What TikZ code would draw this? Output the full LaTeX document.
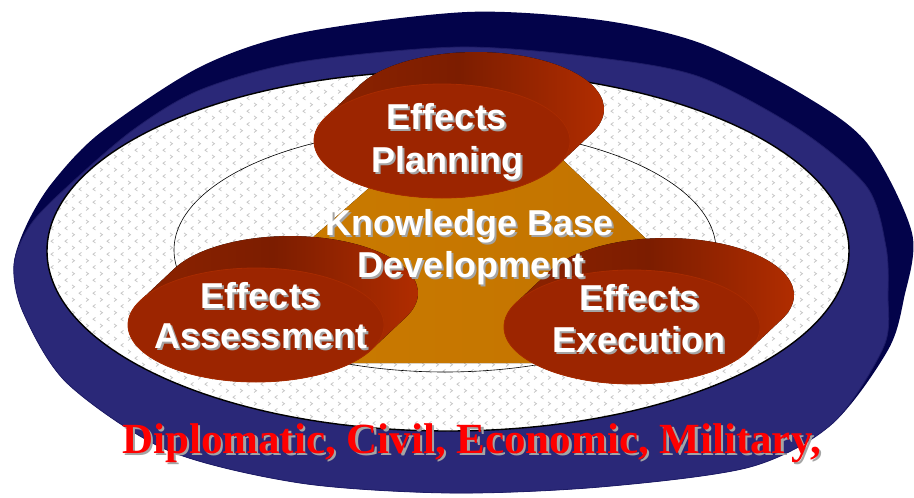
\documentclass[tikz,border=0pt]{standalone}
\usepackage{fontspec}
\setmainfont{Liberation Sans}
\newfontfamily\serifbold{Liberation Serif}
\usetikzlibrary{patterns}

\definecolor{navyD}{HTML}{03034A}
\definecolor{navyF}{HTML}{2A2878}
\definecolor{navyE}{HTML}{1E1C66}
\definecolor{redF}{HTML}{9C2500}
\definecolor{redE}{HTML}{A82B00}
\definecolor{redD}{HTML}{7C1D00}
\definecolor{redL}{HTML}{B22D00}
\definecolor{redM}{HTML}{8E2300}
\definecolor{orng}{HTML}{CC7C00}
\definecolor{orngD}{HTML}{C27300}
\definecolor{patgray}{HTML}{C6C6C6}
\definecolor{shad}{HTML}{A4A4A4}
\definecolor{txtred}{HTML}{FF0000}

\pgfdeclarepatternformonly{chevrons}{\pgfpoint{-1pt}{-1pt}}{\pgfpoint{15pt}{14pt}}{\pgfpoint{14pt}{13pt}}{%
  \pgfsetlinewidth{0.75pt}%
  \pgfpathmoveto{\pgfpoint{2pt}{1.5pt}}\pgfpathlineto{\pgfpoint{4.5pt}{3.3pt}}\pgfpathlineto{\pgfpoint{2pt}{5.1pt}}%
  \pgfusepath{stroke}%
  \pgfpathmoveto{\pgfpoint{11.5pt}{8pt}}\pgfpathlineto{\pgfpoint{9pt}{9.8pt}}\pgfpathlineto{\pgfpoint{11.5pt}{11.6pt}}%
  \pgfusepath{stroke}%
}

\tikzset{
  lbl/.style={anchor=base, inner sep=0pt, text=white, font=\fontsize{36}{42}\selectfont\bfseries},
  lblsh/.style={lbl, text=shad},
  redlbl/.style={anchor=base west, inner sep=0pt, text=txtred, font=\serifbold\bfseries\fontsize{43}{48}\selectfont},
  redlblsh/.style={redlbl, text=shad},
  discside/.style={left color=redM, right color=redL, middle color=redD},
  discface/.style={fill=redF, draw=redE, line width=0.8pt},
  discr/.style={x radius=128, y radius=57},
}

\newcommand\shtext[4]{%
  \node[lblsh] at (#2+2,#3+2) {#4};
  \node[lbl] (#1) at (#2,#3) {#4};
}
% disc: face centre (#1,#2), extruded by (34,-32); hull through the tangent points
\newcommand\reddisc[2]{%
  \begin{scope}
    \clip (#1+115.7,#2+24.4) -- (#1+149.7,#2-7.6)
      arc[discr, start angle=25.3, end angle=-154.7]
      -- (#1-115.7,#2-24.4)
      arc[discr, start angle=205.3, end angle=25.3] -- cycle;
    \fill[discside] (#1-132,#2-95) rectangle (#1+166,#2+62);
  \end{scope}
  \path[discface] (#1,#2) ellipse [discr];
}

\begin{document}
\begin{tikzpicture}[x=1pt,y=-1pt]
\useasboundingbox (0,0) rectangle (914,498);
\fill[white] (0,0) rectangle (914,498);

% outer navy disc: rim then face
\fill[navyD] plot[smooth cycle] coordinates {(14,264) (27,224) (52,183) (100,133) (200,67) (300,33) (467,12) (600,20) (700,43) (800,93) (867,143) (912,233) (904,298) (888,350) (833,423) (750,467) (600,487) (450,493) (300,483) (167,450) (67,383) (23,312)};
\filldraw[fill=navyF, draw=navyE, line width=0.8pt] plot[smooth cycle] coordinates {(14,264) (23,312) (67,383) (167,450) (300,483) (450,493) (600,487) (750,467) (833,423) (884,346) (888,295) (886,247) (867,187) (800,130) (700,77) (600,58) (460,47) (300,62) (200,90) (133,130) (68,186) (31,224)};

% patterned white area
\fill[white] (448,251) ellipse [x radius=401, y radius=180];
\fill[pattern=chevrons, pattern color=patgray] (448,251) ellipse [x radius=401, y radius=180];
\draw[black, line width=1.4pt] (448,251) ellipse [x radius=401, y radius=180];

% thin inner ring
\draw[black, line width=0.6pt] (445,250) ellipse [x radius=271, y radius=122];

% knowledge base triangle
\fill[left color=orng, right color=orngD] (485,86) -- (700,290) -- (690,363) -- (170,363) -- cycle;

% the three discs
\reddisc{442}{141}
\reddisc{256}{325}
\reddisc{632}{327}

% labels
\shtext{plan1}{447}{129}{Effects}
\shtext{plan2}{447}{172}{Planning}
\shtext{asse1}{261}{308}{Effects}
\shtext{asse2}{261}{348}{Assessment}
\shtext{exec1}{640}{310}{Effects}
\shtext{exec2}{639}{352}{Execution}
\shtext{kb1}{470}{235}{Knowledge Base}
\shtext{kb2}{471}{277}{Development}

\node[redlblsh] at (124.5,455.5) {Diplomatic, Civil, Economic, Military,};
\node[redlbl] (instr) at (122,453) {Diplomatic, Civil, Economic, Military,};
\end{tikzpicture}
\end{document}
